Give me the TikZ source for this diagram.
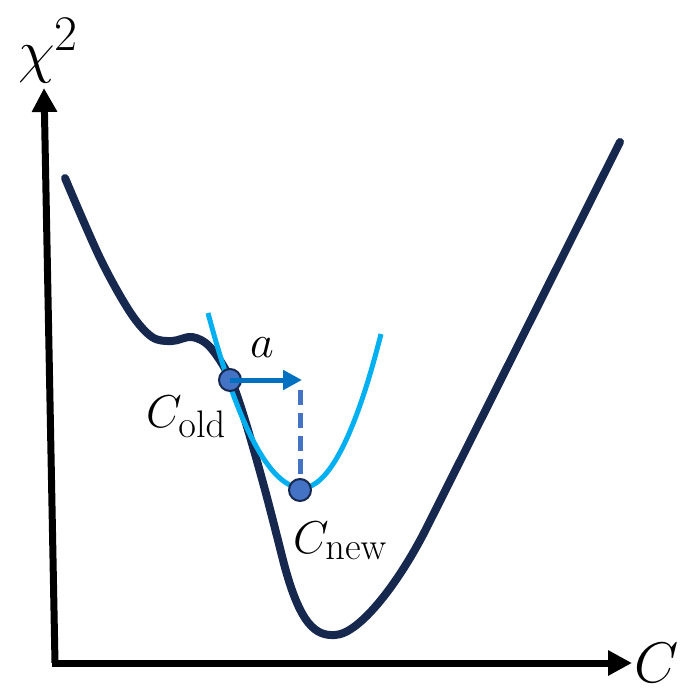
\documentclass[tikz,border=0pt]{standalone}
\usetikzlibrary{arrows.meta}
\definecolor{navy}{HTML}{17284F}
\definecolor{sky}{HTML}{00B0F0}
\definecolor{dotblue}{HTML}{4472C4}
\definecolor{arrblue}{HTML}{0070C0}
\newcommand\BigLab[1]{\scalebox{2.4}{\Huge$#1$}}
\newcommand\MidLab[1]{\scalebox{1.85}{\Huge$#1$}}
\begin{document}
\begin{tikzpicture}[x=1pt,y=-1pt,
  axis/.style={line width=7pt,-{Triangle[length=24pt,width=24pt]}},
  lab/.style={inner sep=0pt,anchor=base west},
  pt/.style={circle,draw=navy,line width=2pt,fill=dotblue,minimum size=22pt,inner sep=0pt}]
\useasboundingbox (0,0) rectangle (692,687);
% axes
\coordinate (o) at (55,663);
\coordinate (ytip) at (44,88);
\coordinate (xs) at (52,663);
\coordinate (xtip) at (632,663);
\draw[axis] (o) -- (ytip);
\draw[axis] (xs) -- (xtip);
\node[lab] (ylab) at (18,72) {\BigLab{\chi^2}};
\node[lab] (xlab) at (634,682) {\scalebox{2.3}{\Huge$C$}};
% main curve
\draw[navy,line width=8pt,line cap=round,line join=round] plot[smooth,tension=0.55] coordinates {
 (65,178) (100,258) (130,312) (152,337) (172,341) (192,337) (210,347) (230,378)
 (245,420) (265,490) (283,560)}
 .. controls (300,626) and (316,636) .. (335,635)
 .. controls (360,634) and (400,581) .. (427,527) -- (620,142);
% local parabola
\draw[sky,line width=5pt] (208,313) parabola bend (302,488) (381,334);
% points
\node[pt] (cold) at (230,380) {};
\node[pt] (cnew) at (300,490) {};
\coordinate (atip) at (302,380);
\draw[arrblue,line width=5pt,-{Triangle[length=19pt,width=19pt]}] (cold.center) -- (atip);
\draw[dotblue,line width=5pt,dash pattern=on 15pt off 8pt] (300,390) -- (cnew.north);
% labels
\node[lab] (la) at (250,357) {\MidLab{a}};
\node[lab] (lold) at (146,427) {\MidLab{C_{\mathrm{old}}}};
\node[lab] (lnew) at (293,553) {\MidLab{C_{\mathrm{new}}}};
\end{tikzpicture}
\end{document}
